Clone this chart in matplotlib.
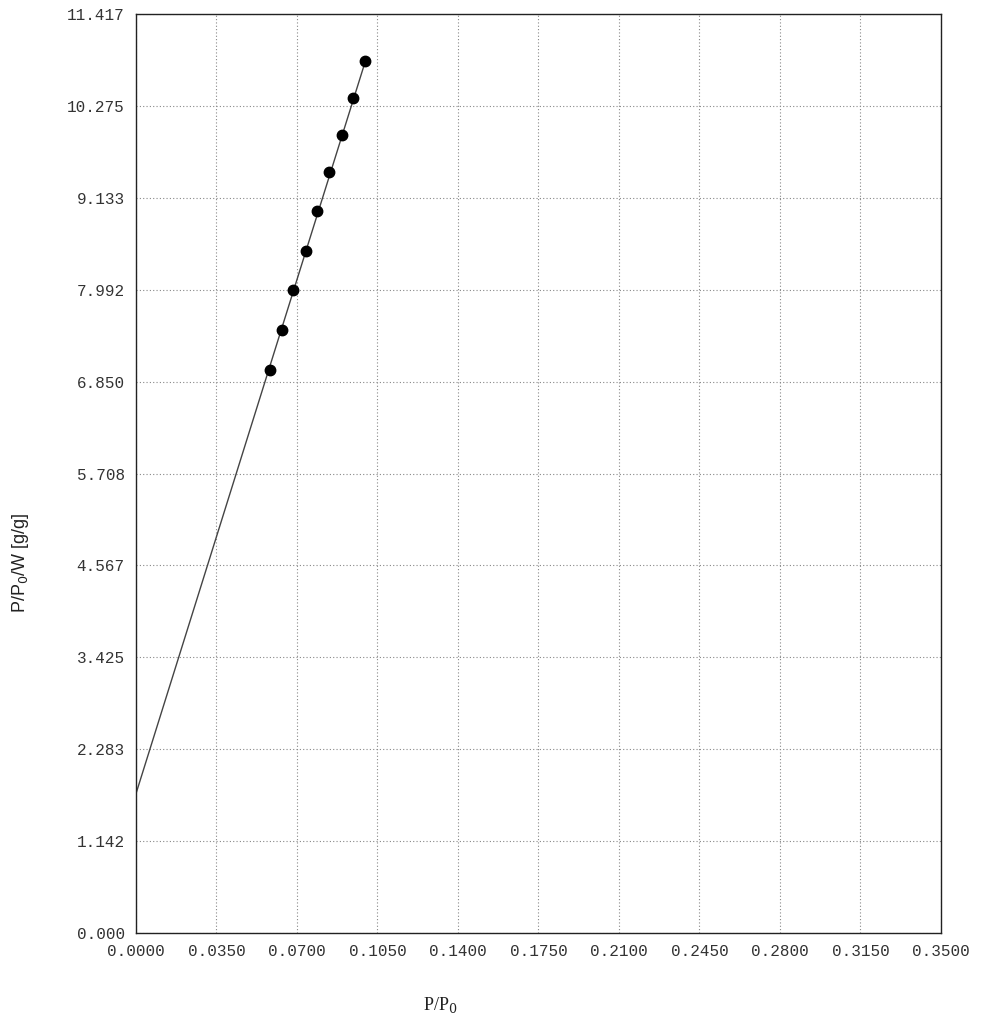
import numpy as np
import matplotlib.pyplot as plt

# Data
p_rel = [0.0583, 0.0633, 0.0684, 0.0738, 0.0788, 0.0840, 0.0894, 0.0945, 0.0997]
bet_y = [6.995, 7.487, 7.985, 8.477, 8.969, 9.449, 9.912, 10.376, 10.827]

# fitted straight line (ends)
line_x = [0.0, 0.0997]
line_y = [1.73, 10.827]

x_ticks = [0.0, 0.035, 0.070, 0.105, 0.140, 0.175, 0.210, 0.245, 0.280, 0.315, 0.350]
x_labels = ['0.0000', '0.0350', '0.0700', '0.1050', '0.1400', '0.1750',
            '0.2100', '0.2450', '0.2800', '0.3150', '0.3500']
y_ticks = [0.0, 1.142, 2.283, 3.425, 4.567, 5.708, 6.850, 7.992, 9.133, 10.275, 11.417]
y_labels = ['0.000', '1.142', '2.283', '3.425', '4.567', '5.708',
            '6.850', '7.992', '9.133', '10.275', '11.417']

fig = plt.figure(figsize=(9.81, 10.22), dpi=100)
ax = fig.add_axes([0.1386, 0.0871, 0.8206, 0.8992])

ax.plot(line_x, line_y, color='#444444', lw=1.0, zorder=2)
ax.plot(p_rel, bet_y, 'o', color='black', ms=7.5, zorder=3)

ax.set_xlim(0, 0.35)
ax.set_ylim(0, 11.417)
ax.set_xticks(x_ticks)
ax.set_xticklabels(x_labels)
ax.set_yticks(y_ticks)
ax.set_yticklabels(y_labels)
ax.tick_params(length=0, pad=8, labelsize=11.5, labelcolor='#333333')
for lab in ax.get_xticklabels() + ax.get_yticklabels():
    lab.set_family('Liberation Mono')

ax.grid(True, ls=(0, (1, 2)), color='#888888', lw=0.8)
for s in ax.spines.values():
    s.set_color('#222222')
    s.set_linewidth(1.0)

fig.text(0.449, 0.017, 'P/P$_0$', family='Liberation Serif', fontsize=13,
         ha='center', va='center', color='#222222',
         math_fontfamily='dejavuserif')
fig.text(0.021, 0.449, 'P/P$_0$/W [g/g]', family='Liberation Sans', fontsize=13,
         rotation=90, ha='center', va='center', color='#222222')

fig.savefig('out.png', dpi=100)
